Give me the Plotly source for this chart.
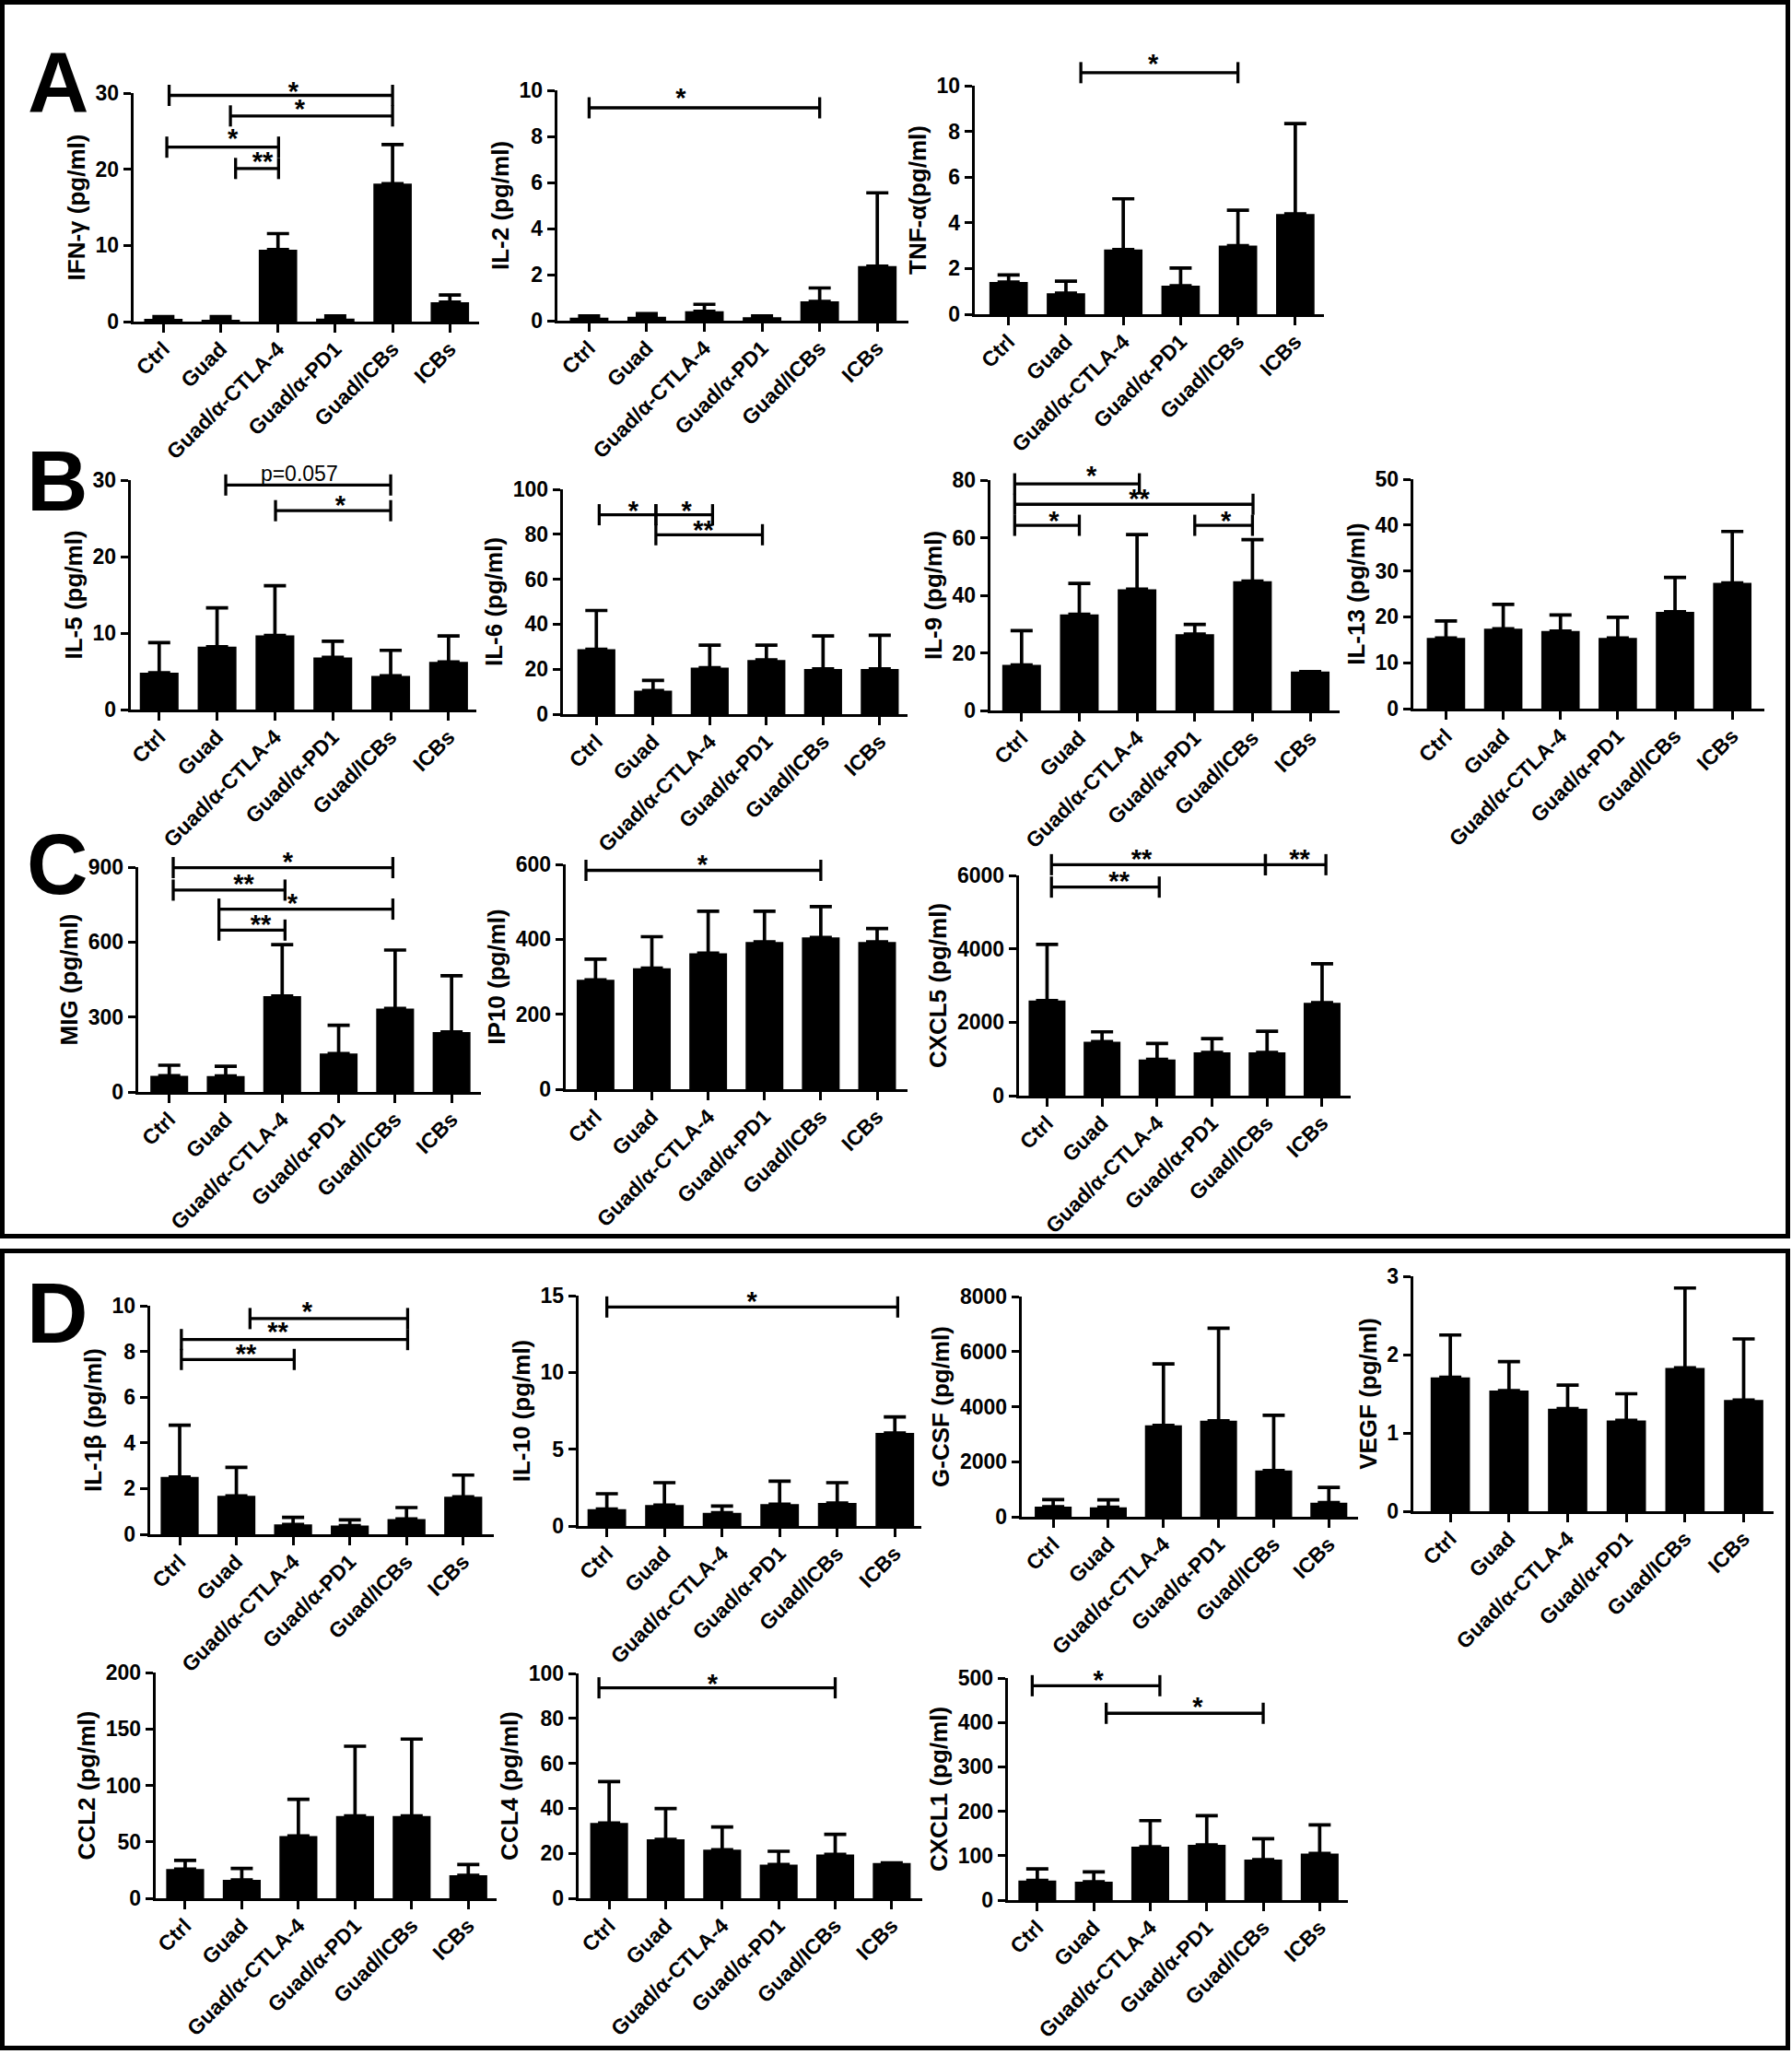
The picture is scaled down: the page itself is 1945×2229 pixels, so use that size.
import plotly.graph_objects as go

W, H = 1945, 2229

groups = ["Ctrl", "Guad", "Guad/α-CTLA-4", "Guad/α-PD1", "Guad/ICBs", "ICBs"]

# ---------------- data (mean, SD, y ticks, significance brackets) ----------------
# bracket: (x_start, x_end, y_line, label, label_x, label_y)
ifng_mean = [0.36, 0.25, 9.45, 0.40, 18.1, 2.55]
ifng_sd = [0.30, 0.40, 2.10, 0.33, 5.15, 0.95]
ifng_ticks = [0, 10, 20, 30]
ifng_sig = [(0.10, 4.00, 29.7, "*", 2.27, 30.6), (1.17, 4.00, 27.0, "*", 2.38, 28.3),
            (0.06, 2.01, 22.9, "*", 1.21, 24.45), (1.26, 2.01, 20.1, "**", 1.73, 21.4)]

il2_mean = [0.13, 0.17, 0.41, 0.15, 0.84, 2.37]
il2_sd = [0.08, 0.14, 0.30, 0.06, 0.58, 3.18]
il2_ticks = [0, 2, 4, 6, 8, 10]
il2_sig = [(0.0, 4.0, 9.24, "*", 1.59, 9.8)]

tnf_mean = [1.41, 0.92, 2.83, 1.25, 3.00, 4.39]
tnf_sd = [0.31, 0.53, 2.22, 0.77, 1.55, 3.95]
tnf_ticks = [0, 2, 4, 6, 8, 10]
tnf_sig = [(1.26, 4.0, 10.57, "*", 2.52, 11.08)]

il5_mean = [4.81, 8.22, 9.70, 6.82, 4.41, 6.22]
il5_sd = [3.93, 5.08, 6.50, 2.12, 3.33, 3.41]
il5_ticks = [0, 10, 20, 30]
il5_sig = [(1.15, 4.0, 29.36, "p=0.057", 2.42, 30.57), (2.01, 4.0, 26.0, "*", 3.13, 27.1)]

il6_mean = [28.9, 10.5, 20.7, 24.1, 20.1, 20.1]
il6_sd = [17.2, 4.5, 10.0, 6.6, 14.7, 15.0]
il6_ticks = [0, 20, 40, 60, 80, 100]
il6_sig = [(0.05, 1.05, 88.7, "*", 0.65, 92.1), (1.05, 2.05, 88.7, "*", 1.59, 92.1),
           (1.05, 2.93, 79.8, "**", 1.89, 83.2)]

il9_mean = [15.8, 33.4, 42.1, 26.5, 44.9, 13.5]
il9_sd = [11.9, 10.7, 19.0, 3.4, 14.4, 0.0]
il9_ticks = [0, 20, 40, 60, 80]
il9_sig = [(-0.12, 2.04, 78.7, "*", 1.21, 82.5), (-0.12, 4.01, 71.6, "**", 2.04, 74.5),
           (-0.12, 1.0, 64.3, "*", 0.56, 67.0), (3.0, 4.0, 64.3, "*", 3.54, 67.0)]

il13_mean = [15.4, 17.4, 16.9, 15.4, 21.1, 27.4]
il13_sd = [3.7, 5.3, 3.5, 4.5, 7.5, 11.2]
il13_ticks = [0, 10, 20, 30, 40, 50]
il13_sig = []

mig_mean = [65, 64, 384, 154, 334, 240]
mig_sd = [42, 39, 206, 113, 234, 225]
mig_ticks = [0, 300, 600, 900]
mig_sig = [(0.07, 3.96, 898, "*", 2.1, 934), (0.07, 2.05, 808, "**", 1.32, 845),
           (0.88, 3.96, 732, "*", 2.18, 768), (0.88, 2.05, 648, "**", 1.62, 682)]

ip10_mean = [292, 323, 363, 393, 405, 393]
ip10_sd = [55, 84, 112, 82, 82, 36]
ip10_ticks = [0, 200, 400, 600]
ip10_sig = [(-0.17, 4.0, 584, "*", 1.9, 608)]

cxcl5_mean = [2590, 1471, 986, 1178, 1178, 2532]
cxcl5_sd = [1530, 267, 435, 376, 577, 1061]
cxcl5_ticks = [0, 2000, 4000, 6000]
cxcl5_sig = [(0.08, 3.97, 6292, "**", 1.72, 6543), (3.97, 5.07, 6292, "**", 4.59, 6543),
             (0.08, 2.04, 5682, "**", 1.31, 5933)]

il1b_mean = [2.51, 1.68, 0.43, 0.38, 0.67, 1.64]
il1b_sd = [2.26, 1.25, 0.31, 0.25, 0.50, 0.95]
il1b_ticks = [0, 2, 4, 6, 8, 10]
il1b_sig = [(1.24, 4.02, 9.44, "*", 2.25, 9.87), (0.03, 4.02, 8.52, "**", 1.73, 8.99),
            (0.03, 2.02, 7.65, "**", 1.17, 8.05)]

il10_mean = [1.10, 1.36, 0.86, 1.42, 1.50, 6.06]
il10_sd = [1.00, 1.46, 0.44, 1.50, 1.32, 1.04]
il10_ticks = [0, 5, 10, 15]
il10_sig = [(0.0, 5.05, 14.26, "*", 2.52, 14.86)]

gcsf_mean = [368, 345, 3320, 3487, 1682, 513]
gcsf_sd = [256, 268, 2229, 3365, 2006, 557]
gcsf_ticks = [0, 2000, 4000, 6000, 8000]
gcsf_sig = []

vegf_mean = [1.71, 1.54, 1.31, 1.16, 1.83, 1.42]
vegf_sd = [0.54, 0.37, 0.30, 0.34, 1.02, 0.78]
vegf_ticks = [0, 1, 2, 3]
vegf_sig = []

ccl2_mean = [25.9, 16.3, 55.2, 72.9, 72.9, 20.4]
ccl2_sd = [7.6, 10.1, 32.4, 61.8, 68.1, 9.5]
ccl2_ticks = [0, 50, 100, 150, 200]
ccl2_sig = []

ccl4_mean = [33.5, 26.2, 21.6, 15.0, 19.5, 15.7]
ccl4_sd = [18.4, 13.7, 10.1, 5.9, 8.9, 0.0]
ccl4_ticks = [0, 20, 40, 60, 80, 100]
ccl4_sig = [(-0.18, 4.0, 93.6, "*", 1.83, 97.0)]

cxcl1_mean = [44.2, 41.4, 120.2, 124.3, 91.2, 105.0]
cxcl1_sd = [26.2, 22.1, 58.7, 65.6, 46.9, 64.2]
cxcl1_ticks = [0, 100, 200, 300, 400, 500]
cxcl1_sig = [(-0.09, 2.17, 482.7, "*", 1.08, 502), (1.22, 4.0, 420.6, "*", 2.84, 443)]

charts = [
    ("IFN-γ (pg/ml)", ifng_mean, ifng_sd, ifng_ticks, ifng_sig),
    ("IL-2 (pg/ml)", il2_mean, il2_sd, il2_ticks, il2_sig),
    ("TNF-α(pg/ml)", tnf_mean, tnf_sd, tnf_ticks, tnf_sig),
    ("IL-5 (pg/ml)", il5_mean, il5_sd, il5_ticks, il5_sig),
    ("IL-6 (pg/ml)", il6_mean, il6_sd, il6_ticks, il6_sig),
    ("IL-9 (pg/ml)", il9_mean, il9_sd, il9_ticks, il9_sig),
    ("IL-13 (pg/ml)", il13_mean, il13_sd, il13_ticks, il13_sig),
    ("MIG (pg/ml)", mig_mean, mig_sd, mig_ticks, mig_sig),
    ("IP10 (pg/ml)", ip10_mean, ip10_sd, ip10_ticks, ip10_sig),
    ("CXCL5 (pg/ml)", cxcl5_mean, cxcl5_sd, cxcl5_ticks, cxcl5_sig),
    ("IL-1β (pg/ml)", il1b_mean, il1b_sd, il1b_ticks, il1b_sig),
    ("IL-10 (pg/ml)", il10_mean, il10_sd, il10_ticks, il10_sig),
    ("G-CSF (pg/ml)", gcsf_mean, gcsf_sd, gcsf_ticks, gcsf_sig),
    ("VEGF (pg/ml)", vegf_mean, vegf_sd, vegf_ticks, vegf_sig),
    ("CCL2 (pg/ml)", ccl2_mean, ccl2_sd, ccl2_ticks, ccl2_sig),
    ("CCL4 (pg/ml)", ccl4_mean, ccl4_sd, ccl4_ticks, ccl4_sig),
    ("CXCL1 (pg/ml)", cxcl1_mean, cxcl1_sd, cxcl1_ticks, cxcl1_sig),
]

# ---------------- layout geometry (pixels): y-axis x, x-axis end, y of 0, y of top tick, x range ----------------
geometry = [
    (145, 520, 349, 101, -0.52, 5.51),
    (605, 986, 348, 98, -0.55, 5.54),
    (1058, 1437, 341, 93, -0.59, 5.50),
    (142, 517, 770, 521, -0.49, 5.48),
    (611, 985, 775, 531, -0.59, 5.49),
    (1075, 1454, 771, 521, -0.54, 5.51),
    (1534, 1915, 769, 520, -0.57, 5.56),
    (150, 522, 1185, 941, -0.55, 5.52),
    (614, 985, 1182, 938, -0.53, 5.54),
    (1106, 1466, 1189, 950, -0.51, 5.52),
    (163, 536, 1665, 1417, -0.52, 5.54),
    (628, 1000, 1656, 1406, -0.49, 5.46),
    (1109, 1474, 1646, 1407, -0.57, 5.53),
    (1534, 1925, 1640, 1385, -0.63, 5.51),
    (169, 539, 2060, 1815, -0.52, 5.50),
    (628, 1001, 2060, 1816, -0.54, 5.54),
    (1094, 1463, 2062, 1821, -0.52, 5.50),
]

ARIAL = "Liberation Sans, Arial, Helvetica, sans-serif"
N = len(charts)
EXT = 80          # extra pixels above each plot for significance brackets
TICK_HALF = 11.5  # half height of bracket end ticks in px
LW = 3.3

fig = go.Figure()
layout = dict(
    template="none",
    width=W, height=H, autosize=False,
    margin=dict(l=0, r=0, t=0, b=0, pad=0, autoexpand=False),
    paper_bgcolor="white", plot_bgcolor="rgba(0,0,0,0)",
    showlegend=False,
)


def nm(letter, i):
    return letter if i == 1 else f"{letter}{i}"


def key(letter, i):
    return f"{letter}axis" if i == 1 else f"{letter}axis{i}"


xs = list(range(len(groups)))
for i, ((title, mean, sd, ticks, sig), (axx, xend, y0, ytop, xl, xr)) in enumerate(zip(charts, geometry), start=1):
    top = ticks[-1]
    upp = top / (y0 - ytop)  # data units per pixel
    xa, ya, yb = nm("x", i), nm("y", i), nm("y", N + i)

    layout[key("x", i)] = dict(
        domain=[axx / W, xend / W], range=[xl, xr], anchor=ya, automargin=False,
        tickmode="array", tickvals=xs, ticktext=groups, tickangle=-45,
        ticks="outside", ticklen=9, tickwidth=3, tickcolor="black",
        ticklabelstandoff=-5,
        showline=True, linewidth=LW, linecolor="black",
        showgrid=False, zeroline=False,
        tickfont=dict(family=ARIAL, size=23, color="black", weight=700),
    )
    layout[key("y", i)] = dict(
        domain=[1 - y0 / H, 1 - ytop / H], range=[0, top], anchor=xa, automargin=False,
        tickmode="array", tickvals=ticks,
        ticks="outside", ticklen=8, tickwidth=3, tickcolor="black",
        showline=True, linewidth=LW, linecolor="black",
        showgrid=False, zeroline=False,
        tickfont=dict(family=ARIAL, size=23, color="black", weight=700),
        title=dict(text=title, font=dict(family=ARIAL, size=26, color="black", weight=700), standoff=4),
    )
    layout[key("y", N + i)] = dict(
        domain=[1 - y0 / H, 1 - (ytop - EXT) / H], range=[0, upp * (y0 - ytop + EXT)],
        anchor=xa, visible=False, showgrid=False, zeroline=False, automargin=False,
    )

    fig.add_trace(go.Bar(
        x=xs, y=mean, width=0.67, xaxis=xa, yaxis=ya,
        marker=dict(color="black", line=dict(width=0)),
        error_y=dict(type="data", symmetric=False, array=sd, arrayminus=[0] * len(sd),
                     color="black", thickness=3.7, width=12),
        hoverinfo="skip",
    ))

    if sig:
        bx, by = [], []
        h = TICK_HALF * upp
        for (x1, x2, yl, lab, lx, ly) in sig:
            bx += [x1, x2, None, x1, x1, None, x2, x2, None]
            by += [yl, yl, None, yl - h, yl + h, None, yl - h, yl + h, None]
        fig.add_trace(go.Scatter(x=bx, y=by, mode="lines", xaxis=xa, yaxis=yb,
                                 line=dict(color="black", width=LW), hoverinfo="skip"))
        stars = [s for s in sig if s[3] != "p=0.057"]
        ptxt = [s for s in sig if s[3] == "p=0.057"]
        if stars:
            fig.add_trace(go.Scatter(
                x=[s[4] for s in stars], y=[s[5] - 6 * upp for s in stars],
                text=[s[3] for s in stars], mode="text", xaxis=xa, yaxis=yb,
                textposition="middle center", cliponaxis=False,
                textfont=dict(family=ARIAL, size=29, color="black", weight=700),
                hoverinfo="skip"))
        if ptxt:
            fig.add_trace(go.Scatter(
                x=[s[4] for s in ptxt], y=[s[5] for s in ptxt],
                text=[s[3] for s in ptxt], mode="text", xaxis=xa, yaxis=yb,
                textposition="middle center", cliponaxis=False,
                textfont=dict(family=ARIAL, size=23, color="black"),
                hoverinfo="skip"))

# panel letters
panel_letters = [("A", 63, 89), ("B", 62, 522), ("C", 62, 938), ("D", 62, 1425)]
layout["annotations"] = [
    dict(text=t, x=px / W, y=1 - py / H, xref="paper", yref="paper", showarrow=False,
         xanchor="center", yanchor="middle",
         font=dict(family=ARIAL, size=92, color="black", weight=700))
    for (t, px, py) in panel_letters
]

# frames
layout["shapes"] = [
    dict(type="rect", xref="paper", yref="paper", x0=2.5 / W, x1=1940.5 / W,
         y0=1 - 1341.5 / H, y1=1 - 2.5 / H, line=dict(color="black", width=5)),
    dict(type="rect", xref="paper", yref="paper", x0=2.5 / W, x1=1940.5 / W,
         y0=1 - 2222.5 / H, y1=1 - 1357.5 / H, line=dict(color="black", width=5)),
]

fig.update_layout(**layout)
fig.write_html(
    "out.html",
    config={"displayModeBar": False, "staticPlot": True},
    post_script="document.body.style.margin='0';document.body.style.padding='0';",
)
